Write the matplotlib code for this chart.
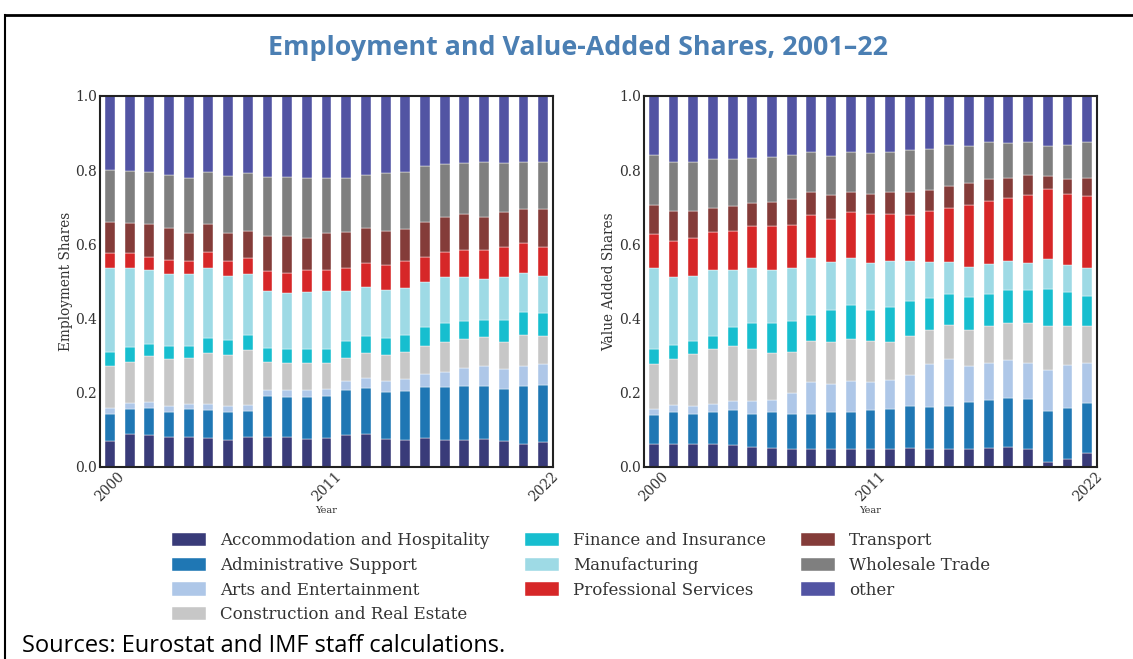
import matplotlib.pyplot as plt
import numpy as np
from matplotlib.lines import Line2D

years = list(range(2000, 2023))

sectors = ["Accommodation and Hospitality", "Administrative Support",
           "Arts and Entertainment", "Construction and Real Estate",
           "Finance and Insurance", "Manufacturing", "Professional Services",
           "Transport", "Wholesale Trade", "other"]

colors = ["#393b79", "#1f77b4", "#aec7e8", "#c7c7c7", "#17becf",
          "#9edae5", "#d62728", "#843c39", "#7f7f7f", "#5254a3"]

# employment shares by sector, 2000-2022
emp_accommodation = [0.069, 0.089, 0.087, 0.080, 0.080, 0.078, 0.074, 0.080, 0.080, 0.080, 0.075, 0.078,
                     0.085, 0.089, 0.076, 0.072, 0.078, 0.074, 0.072, 0.076, 0.069, 0.061, 0.067]
emp_admin = [0.073, 0.068, 0.073, 0.068, 0.076, 0.075, 0.073, 0.071, 0.112, 0.109, 0.114, 0.114,
             0.122, 0.124, 0.125, 0.132, 0.138, 0.142, 0.146, 0.142, 0.142, 0.157, 0.155]
emp_arts = [0.017, 0.016, 0.015, 0.017, 0.015, 0.016, 0.018, 0.015, 0.015, 0.018, 0.018, 0.017,
            0.024, 0.028, 0.030, 0.032, 0.035, 0.039, 0.049, 0.053, 0.052, 0.054, 0.055]
emp_construction = [0.113, 0.111, 0.124, 0.125, 0.124, 0.137, 0.136, 0.149, 0.077, 0.074, 0.072, 0.070,
                    0.064, 0.067, 0.070, 0.074, 0.075, 0.081, 0.077, 0.079, 0.073, 0.085, 0.076]
emp_finance = [0.038, 0.039, 0.033, 0.037, 0.031, 0.041, 0.042, 0.041, 0.037, 0.037, 0.039, 0.039,
               0.044, 0.046, 0.046, 0.046, 0.050, 0.053, 0.050, 0.046, 0.060, 0.061, 0.062]
emp_manufacturing = [0.225, 0.214, 0.200, 0.192, 0.193, 0.190, 0.173, 0.163, 0.153, 0.150, 0.154, 0.156,
                     0.135, 0.131, 0.130, 0.127, 0.122, 0.122, 0.117, 0.111, 0.115, 0.105, 0.100]
emp_professional = [0.042, 0.039, 0.035, 0.040, 0.036, 0.042, 0.039, 0.043, 0.053, 0.056, 0.059, 0.058,
                    0.061, 0.064, 0.067, 0.072, 0.068, 0.068, 0.073, 0.077, 0.081, 0.081, 0.077]
emp_transport = [0.084, 0.081, 0.087, 0.084, 0.075, 0.075, 0.075, 0.075, 0.096, 0.099, 0.086, 0.098,
                 0.099, 0.094, 0.093, 0.086, 0.093, 0.096, 0.097, 0.091, 0.094, 0.092, 0.102]
emp_wholesale = [0.140, 0.141, 0.140, 0.144, 0.148, 0.142, 0.153, 0.155, 0.158, 0.158, 0.161, 0.148,
                 0.144, 0.144, 0.155, 0.153, 0.153, 0.141, 0.138, 0.146, 0.133, 0.125, 0.127]
emp_other = [0.199, 0.202, 0.206, 0.213, 0.222, 0.204, 0.217, 0.208, 0.219, 0.219, 0.222, 0.222,
             0.222, 0.213, 0.208, 0.206, 0.188, 0.184, 0.181, 0.179, 0.181, 0.179, 0.179]

# value added shares by sector, 2000-2022
va_accommodation = [0.063, 0.063, 0.061, 0.061, 0.058, 0.054, 0.051, 0.049, 0.049, 0.048, 0.048, 0.049,
                    0.049, 0.051, 0.049, 0.049, 0.048, 0.051, 0.054, 0.048, 0.013, 0.021, 0.038]
va_admin = [0.076, 0.084, 0.081, 0.086, 0.095, 0.090, 0.096, 0.095, 0.095, 0.099, 0.100, 0.104,
            0.107, 0.114, 0.113, 0.116, 0.126, 0.129, 0.132, 0.136, 0.138, 0.139, 0.135]
va_arts = [0.017, 0.019, 0.023, 0.024, 0.024, 0.033, 0.033, 0.056, 0.085, 0.076, 0.083, 0.076,
           0.078, 0.084, 0.116, 0.125, 0.097, 0.099, 0.103, 0.095, 0.111, 0.114, 0.106]
va_construction = [0.121, 0.124, 0.139, 0.146, 0.149, 0.142, 0.128, 0.110, 0.110, 0.113, 0.114, 0.110,
                   0.102, 0.104, 0.092, 0.093, 0.099, 0.100, 0.099, 0.109, 0.117, 0.107, 0.102]
va_finance = [0.040, 0.040, 0.035, 0.037, 0.051, 0.069, 0.080, 0.084, 0.070, 0.087, 0.091, 0.084,
              0.096, 0.094, 0.086, 0.084, 0.089, 0.088, 0.090, 0.088, 0.101, 0.090, 0.079]
va_manufacturing = [0.218, 0.181, 0.175, 0.177, 0.155, 0.149, 0.143, 0.143, 0.154, 0.129, 0.127, 0.127,
                    0.123, 0.108, 0.096, 0.085, 0.081, 0.079, 0.077, 0.074, 0.081, 0.073, 0.077]
va_professional = [0.093, 0.099, 0.102, 0.101, 0.105, 0.113, 0.119, 0.115, 0.115, 0.116, 0.123, 0.133,
                   0.128, 0.123, 0.138, 0.147, 0.167, 0.172, 0.170, 0.182, 0.189, 0.192, 0.192]
va_transport = [0.077, 0.081, 0.073, 0.066, 0.066, 0.062, 0.064, 0.069, 0.063, 0.064, 0.056, 0.053,
                0.059, 0.063, 0.057, 0.057, 0.058, 0.058, 0.055, 0.054, 0.033, 0.041, 0.051]
va_wholesale = [0.135, 0.130, 0.134, 0.131, 0.126, 0.122, 0.122, 0.119, 0.109, 0.106, 0.107, 0.111,
                0.108, 0.112, 0.111, 0.111, 0.099, 0.099, 0.093, 0.091, 0.081, 0.090, 0.095]
va_other = [0.160, 0.179, 0.177, 0.171, 0.171, 0.166, 0.164, 0.160, 0.150, 0.162, 0.151, 0.153,
            0.150, 0.147, 0.142, 0.133, 0.136, 0.125, 0.127, 0.123, 0.136, 0.133, 0.125]

emp_series = [emp_accommodation, emp_admin, emp_arts, emp_construction, emp_finance,
              emp_manufacturing, emp_professional, emp_transport, emp_wholesale, emp_other]
va_series = [va_accommodation, va_admin, va_arts, va_construction, va_finance,
             va_manufacturing, va_professional, va_transport, va_wholesale, va_other]

tick_years = [2000, 2011, 2022]


def stacked(ax, series, ylabel):
    x = np.arange(len(years))
    bottom = np.zeros(len(years))
    for name, vals, c in zip(sectors, series, colors):
        ax.bar(x, vals, width=0.5, bottom=bottom, color=c, label=name,
               edgecolor="white", linewidth=0.3)
        bottom += np.array(vals)
    ax.set_xlim(-0.5, len(years) - 0.5)
    ax.set_ylim(0, 1)
    ax.set_xticks([years.index(y) for y in tick_years])
    ax.set_xticklabels([str(y) for y in tick_years], rotation=45, ha="center")
    ax.set_yticks(np.arange(0, 1.01, 0.2))
    ax.set_yticklabels([f"{v:.1f}" for v in np.arange(0, 1.01, 0.2)])
    ax.tick_params(length=0, pad=2, labelsize=10, labelcolor="#333333")
    for lab in ax.get_xticklabels() + ax.get_yticklabels():
        lab.set_family("DejaVu Serif")
    for s in ax.spines.values():
        s.set_linewidth(1.5)
        s.set_color("#222222")
    ax.set_ylabel(ylabel, family="DejaVu Serif", fontsize=9.8, color="#333333", labelpad=2)
    ax.set_xlabel("Year", family="DejaVu Serif", fontsize=7, color="#333333", labelpad=1)


def main():
    fig = plt.figure(figsize=(11.33, 6.59), dpi=100)
    ax1 = fig.add_axes([0.0883, 0.2914, 0.3998, 0.563])
    ax2 = fig.add_axes([0.5684, 0.2914, 0.3998, 0.563])
    stacked(ax1, emp_series, "Employment Shares")
    stacked(ax2, va_series, "Value Added Shares")

    fig.text(0.51, 0.927, "Employment and Value-Added Shares, 2001\u201322", ha="center", va="center",
             family="Open Sans", fontweight="bold", fontsize=19.3, color="#4b7fb3")

    handles, labels = ax1.get_legend_handles_labels()
    fig.legend(handles, labels, loc="upper center", bbox_to_anchor=(0.513, 0.215), ncol=3,
               frameon=False, prop={"family": "DejaVu Serif", "size": 12},
               handlelength=2.05, handleheight=0.85, handletextpad=0.85,
               columnspacing=2.1, labelspacing=0.46, labelcolor="#333333")

    fig.text(0.0194, 0.011, "Sources: Eurostat and IMF staff calculations.", ha="left", va="baseline",
             family="Open Sans", fontsize=17, color="black")

    # outer frame
    fig.add_artist(Line2D([0.004, 1.0], [0.977, 0.977], color="black", linewidth=2,
                          transform=fig.transFigure))
    fig.add_artist(Line2D([0.0045, 0.0045], [0.0, 0.977], color="black", linewidth=1.5,
                          transform=fig.transFigure))

    fig.savefig("out.png", dpi=100)


if __name__ == '__main__':
    main()
